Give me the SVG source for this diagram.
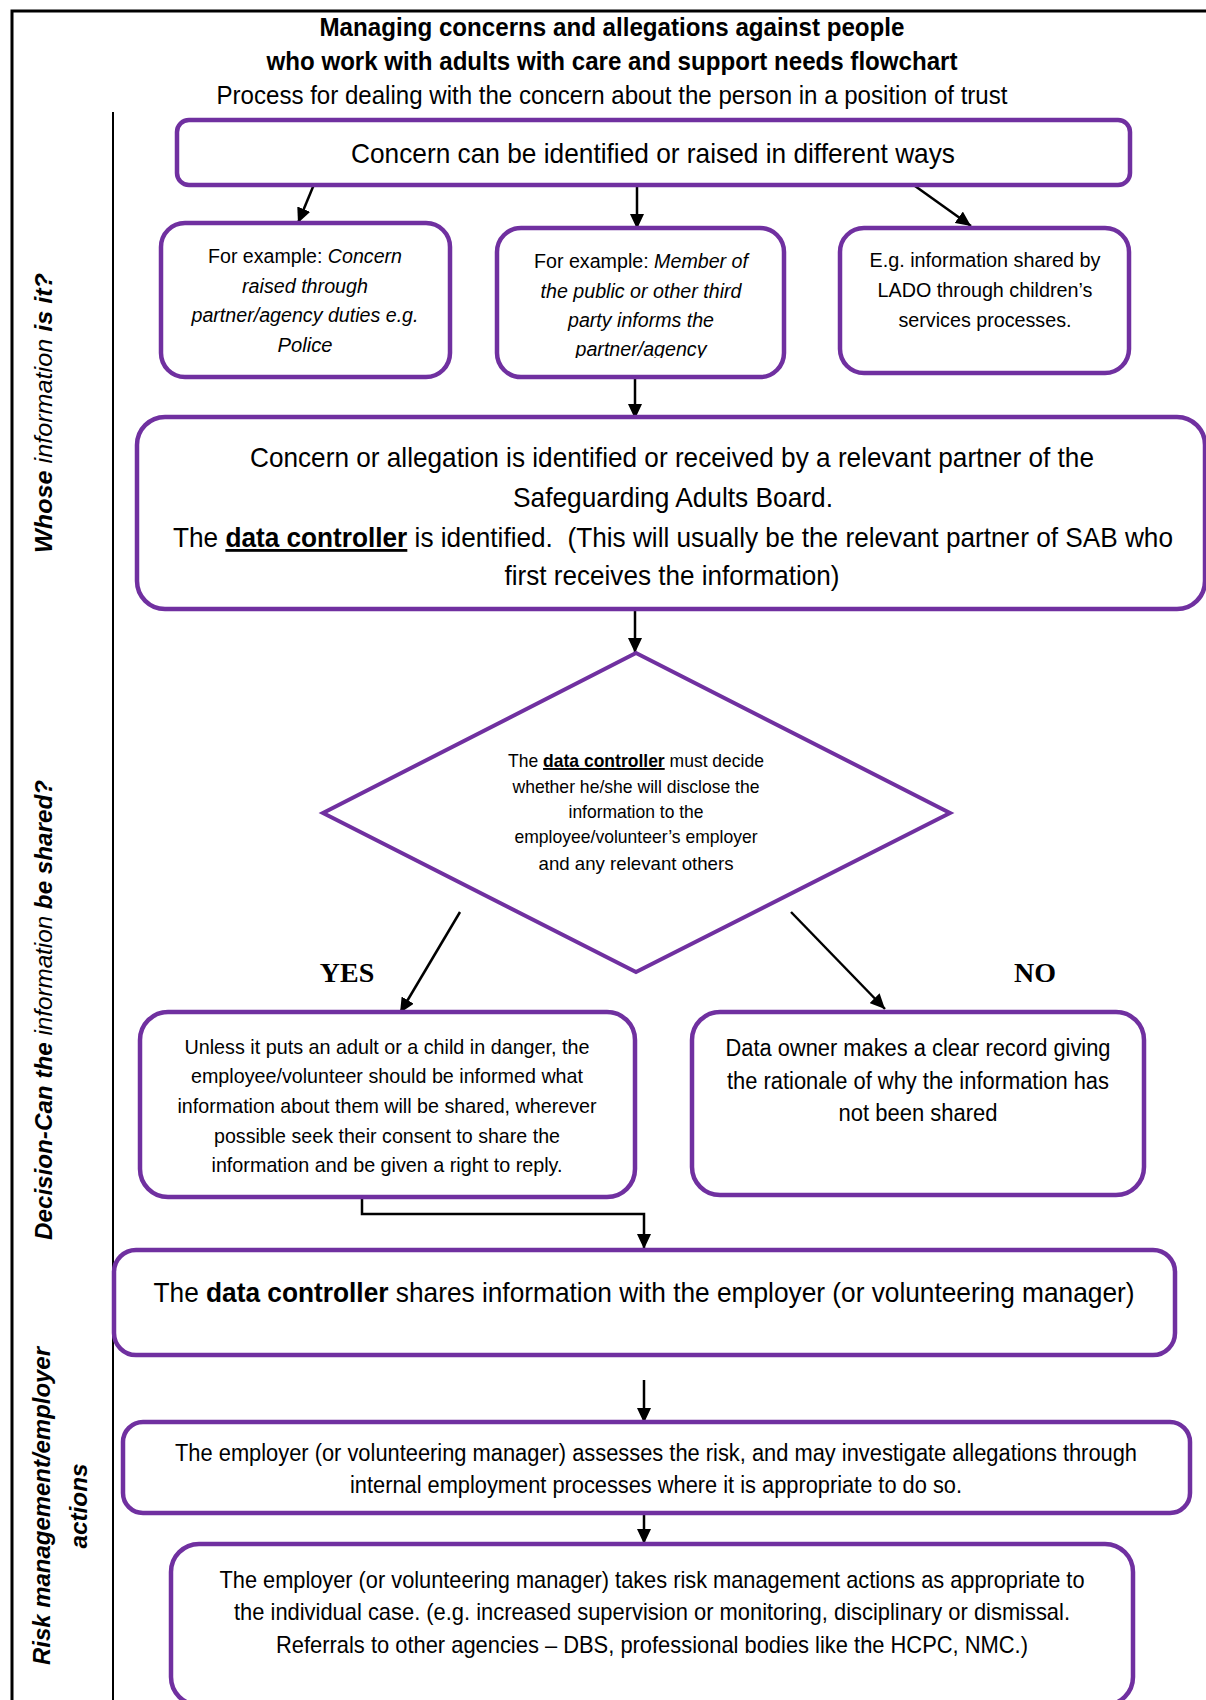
<svg xmlns="http://www.w3.org/2000/svg" width="1206" height="1700" viewBox="0 0 1206 1700">
<defs>
<style>
.t{font-family:"Liberation Sans Narrow","Liberation Sans",Arial,sans-serif;fill:#000;text-anchor:middle}
.box{fill:#fff;stroke:#7030a0;stroke-width:4.5}
.ar{stroke:#000;stroke-width:2.5;fill:none;marker-end:url(#ah)}
.lane{font-family:"Liberation Sans",Arial,sans-serif;font-weight:bold;font-style:italic;font-size:24px;fill:#000}
.b{font-weight:bold}
.u{font-weight:bold;text-decoration:underline}
.i{font-style:italic}
.yn{font-family:"Liberation Serif","Times New Roman",serif;font-weight:bold;font-size:28px;text-anchor:middle}
</style>
<marker id="ah" markerUnits="userSpaceOnUse" markerWidth="16" markerHeight="14" refX="15" refY="7" orient="auto"><path d="M0,0 L15,7 L0,14 z" fill="#000"/></marker>
<clipPath id="clip2b"><rect x="497" y="228" width="287" height="130"/></clipPath>
</defs>
<rect width="1206" height="1700" fill="#fff"/>

<g id="frame" fill="none" stroke="#000">
<path d="M1210,11 H12 V1710" stroke-width="3"/>
<line x1="113" y1="112" x2="113" y2="1700" stroke-width="2"/>
</g>

<g id="lanes">
<text class="lane" transform="translate(52,553) rotate(-90)" textLength="280" lengthAdjust="spacingAndGlyphs">Whose <tspan font-weight="normal">information</tspan> is it?</text>
<text class="lane" transform="translate(52,1240) rotate(-90)" textLength="460" lengthAdjust="spacingAndGlyphs">Decision-Can the <tspan font-weight="normal">information</tspan> be shared?</text>
<text class="lane" transform="translate(50,1506) rotate(-90)" text-anchor="middle" textLength="318" lengthAdjust="spacingAndGlyphs">Risk management/employer</text>
<text class="lane" transform="translate(87,1506) rotate(-90)" text-anchor="middle" textLength="85" lengthAdjust="spacingAndGlyphs">actions</text>
</g>

<g id="title">
<text class="t b" x="612" y="36" font-size="25" textLength="585" lengthAdjust="spacingAndGlyphs">Managing concerns and allegations against people</text>
<text class="t b" x="612" y="70" font-size="25" textLength="691" lengthAdjust="spacingAndGlyphs">who work with adults with care and support needs flowchart</text>
<text class="t" x="612" y="104" font-size="25" textLength="791" lengthAdjust="spacingAndGlyphs">Process for dealing with the concern about the person in a position of trust</text>
</g>

<g id="connectors">
<line class="ar" x1="315" y1="182" x2="298" y2="223"/>
<line class="ar" x1="637" y1="179" x2="637" y2="229"/>
<line class="ar" x1="915" y1="186" x2="971" y2="226"/>
<line class="ar" x1="635" y1="369" x2="635" y2="419"/>
<line class="ar" x1="635" y1="593" x2="635" y2="653"/>
<line class="ar" x1="460" y1="912" x2="400" y2="1013"/>
<line class="ar" x1="791" y1="912" x2="885" y2="1009"/>
<polyline class="ar" points="362,1187 362,1214 644,1214 644,1249" stroke-width="3"/>
<line class="ar" x1="644" y1="1380" x2="644" y2="1423"/>
<line class="ar" x1="644" y1="1512" x2="644" y2="1544"/>
</g>

<g id="n1">
<rect class="box" x="177" y="120" width="953" height="65" rx="12"/>
<text class="t" x="653" y="163" font-size="28" textLength="604" lengthAdjust="spacingAndGlyphs">Concern can be identified or raised in different ways</text>
</g>

<g id="n2a">
<rect class="box" x="161" y="223" width="289" height="154" rx="24"/>
<text class="t" x="305" y="263" font-size="20" textLength="194" lengthAdjust="spacingAndGlyphs">For example: <tspan class="i">Concern</tspan></text>
<text class="t i" x="305" y="293" font-size="20" textLength="126" lengthAdjust="spacingAndGlyphs">raised through</text>
<text class="t i" x="305" y="322" font-size="20" textLength="227" lengthAdjust="spacingAndGlyphs">partner/agency duties e.g.</text>
<text class="t i" x="305" y="352" font-size="20" textLength="55" lengthAdjust="spacingAndGlyphs">Police</text>
</g>

<g id="n2b">
<rect class="box" x="497" y="228" width="287" height="149" rx="24"/>
<g clip-path="url(#clip2b)">
<text class="t" x="641" y="268" font-size="20" textLength="214" lengthAdjust="spacingAndGlyphs">For example: <tspan class="i">Member of</tspan></text>
<text class="t i" x="641" y="298" font-size="20" textLength="201" lengthAdjust="spacingAndGlyphs">the public or other third</text>
<text class="t i" x="641" y="327" font-size="20" textLength="146" lengthAdjust="spacingAndGlyphs">party informs the</text>
<text class="t i" x="641" y="356" font-size="20" textLength="131" lengthAdjust="spacingAndGlyphs">partner/agency</text>
</g>
</g>

<g id="n2c">
<rect class="box" x="840" y="228" width="289" height="145" rx="24"/>
<text class="t" x="985" y="267" font-size="20" textLength="231" lengthAdjust="spacingAndGlyphs">E.g. information shared by</text>
<text class="t" x="985" y="297" font-size="20" textLength="215" lengthAdjust="spacingAndGlyphs">LADO through children’s</text>
<text class="t" x="985" y="327" font-size="20" textLength="173" lengthAdjust="spacingAndGlyphs">services processes.</text>
</g>

<g id="n3">
<rect class="box" x="137" y="417" width="1068" height="192" rx="28"/>
<text class="t" x="672" y="467" font-size="28" textLength="844" lengthAdjust="spacingAndGlyphs">Concern or allegation is identified or received by a relevant partner of the</text>
<text class="t" x="673" y="507" font-size="28" textLength="320" lengthAdjust="spacingAndGlyphs">Safeguarding Adults Board.</text>
<text class="t" x="673" y="547" font-size="28" textLength="1000" lengthAdjust="spacingAndGlyphs">The <tspan class="u">data controller</tspan> is identified.&#160; (This will usually be the relevant partner of SAB who</text>
<text class="t" x="672" y="585" font-size="28" textLength="335" lengthAdjust="spacingAndGlyphs">first receives the information)</text>
</g>

<g id="decision">
<polygon points="636,653 950,813 636,972 323,813" fill="#fff" stroke="#7030a0" stroke-width="4"/>
<text class="t" x="636" y="767" font-size="19" textLength="256" lengthAdjust="spacingAndGlyphs">The <tspan class="u">data controller</tspan> must decide</text>
<text class="t" x="636" y="793" font-size="19" textLength="247" lengthAdjust="spacingAndGlyphs">whether he/she will disclose the</text>
<text class="t" x="636" y="818" font-size="19" textLength="135" lengthAdjust="spacingAndGlyphs">information to the</text>
<text class="t" x="636" y="843" font-size="19" textLength="243" lengthAdjust="spacingAndGlyphs">employee/volunteer’s employer</text>
<text class="t" x="636" y="870" font-size="19" textLength="195" lengthAdjust="spacingAndGlyphs">and any relevant others</text>
</g>

<g id="labels">
<text class="yn" x="347" y="982">YES</text>
<text class="yn" x="1035" y="982">NO</text>
</g>

<g id="yes">
<rect class="box" x="140" y="1012" width="495" height="185" rx="28"/>
<text class="t" x="387" y="1054" font-size="21" textLength="405" lengthAdjust="spacingAndGlyphs">Unless it puts an adult or a child in danger, the</text>
<text class="t" x="387" y="1083" font-size="21" textLength="392" lengthAdjust="spacingAndGlyphs">employee/volunteer should be informed what</text>
<text class="t" x="387" y="1113" font-size="21" textLength="419" lengthAdjust="spacingAndGlyphs">information about them will be shared, wherever</text>
<text class="t" x="387" y="1143" font-size="21" textLength="346" lengthAdjust="spacingAndGlyphs">possible seek their consent to share the</text>
<text class="t" x="387" y="1172" font-size="21" textLength="351" lengthAdjust="spacingAndGlyphs">information and be given a right to reply.</text>
</g>

<g id="no">
<rect class="box" x="692" y="1012" width="452" height="183" rx="28"/>
<text class="t" x="918" y="1056" font-size="23" textLength="385" lengthAdjust="spacingAndGlyphs">Data owner makes a clear record giving</text>
<text class="t" x="918" y="1089" font-size="23" textLength="382" lengthAdjust="spacingAndGlyphs">the rationale of why the information has</text>
<text class="t" x="918" y="1121" font-size="23" textLength="159" lengthAdjust="spacingAndGlyphs">not been shared</text>
</g>

<g id="shares">
<rect class="box" x="114" y="1250" width="1061" height="105" rx="22"/>
<text class="t" x="644" y="1302" font-size="28" textLength="981" lengthAdjust="spacingAndGlyphs">The <tspan class="b">data controller</tspan> shares information with the employer (or volunteering manager)</text>
</g>

<g id="assess">
<rect class="box" x="123" y="1422" width="1067" height="91" rx="20"/>
<text class="t" x="656" y="1461" font-size="23" textLength="962" lengthAdjust="spacingAndGlyphs">The employer (or volunteering manager) assesses the risk, and may investigate allegations through</text>
<text class="t" x="656" y="1493" font-size="23" textLength="612" lengthAdjust="spacingAndGlyphs">internal employment processes where it is appropriate to do so.</text>
</g>

<g id="actions">
<rect class="box" x="171" y="1544" width="962" height="161" rx="28"/>
<text class="t" x="652" y="1588" font-size="24" textLength="865" lengthAdjust="spacingAndGlyphs">The employer (or volunteering manager) takes risk management actions as appropriate to</text>
<text class="t" x="652" y="1620" font-size="24" textLength="836" lengthAdjust="spacingAndGlyphs">the individual case. (e.g. increased supervision or monitoring, disciplinary or dismissal.</text>
<text class="t" x="652" y="1653" font-size="24" textLength="752" lengthAdjust="spacingAndGlyphs">Referrals to other agencies – DBS, professional bodies like the HCPC, NMC.)</text>
</g>
</svg>
